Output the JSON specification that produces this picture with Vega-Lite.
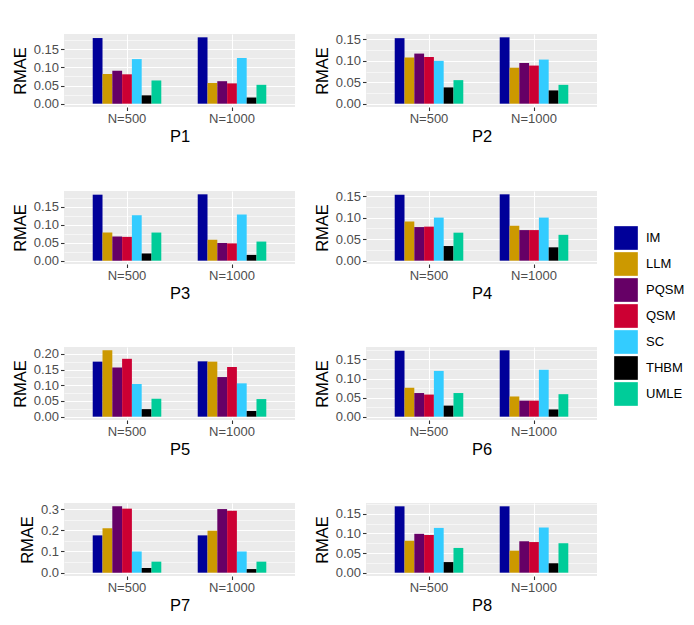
{
  "$schema": "https://vega.github.io/schema/vega-lite/v6.json",
  "background": "white",
  "padding": {"left": 12, "top": 33, "right": 5, "bottom": 5},
  "data": {
    "values": [
      {"panel": "P1", "N": "N=500", "method": "IM", "rmae": 0.181},
      {"panel": "P1", "N": "N=500", "method": "LLM", "rmae": 0.082},
      {"panel": "P1", "N": "N=500", "method": "PQSM", "rmae": 0.091},
      {"panel": "P1", "N": "N=500", "method": "QSM", "rmae": 0.081},
      {"panel": "P1", "N": "N=500", "method": "SC", "rmae": 0.123},
      {"panel": "P1", "N": "N=500", "method": "THBM", "rmae": 0.023},
      {"panel": "P1", "N": "N=500", "method": "UMLE", "rmae": 0.064},
      {"panel": "P1", "N": "N=1000", "method": "IM", "rmae": 0.183},
      {"panel": "P1", "N": "N=1000", "method": "LLM", "rmae": 0.057},
      {"panel": "P1", "N": "N=1000", "method": "PQSM", "rmae": 0.062},
      {"panel": "P1", "N": "N=1000", "method": "QSM", "rmae": 0.056},
      {"panel": "P1", "N": "N=1000", "method": "SC", "rmae": 0.126},
      {"panel": "P1", "N": "N=1000", "method": "THBM", "rmae": 0.017},
      {"panel": "P1", "N": "N=1000", "method": "UMLE", "rmae": 0.052},
      {"panel": "P2", "N": "N=500", "method": "IM", "rmae": 0.153},
      {"panel": "P2", "N": "N=500", "method": "LLM", "rmae": 0.108},
      {"panel": "P2", "N": "N=500", "method": "PQSM", "rmae": 0.117},
      {"panel": "P2", "N": "N=500", "method": "QSM", "rmae": 0.109},
      {"panel": "P2", "N": "N=500", "method": "SC", "rmae": 0.100},
      {"panel": "P2", "N": "N=500", "method": "THBM", "rmae": 0.038},
      {"panel": "P2", "N": "N=500", "method": "UMLE", "rmae": 0.055},
      {"panel": "P2", "N": "N=1000", "method": "IM", "rmae": 0.155},
      {"panel": "P2", "N": "N=1000", "method": "LLM", "rmae": 0.084},
      {"panel": "P2", "N": "N=1000", "method": "PQSM", "rmae": 0.095},
      {"panel": "P2", "N": "N=1000", "method": "QSM", "rmae": 0.089},
      {"panel": "P2", "N": "N=1000", "method": "SC", "rmae": 0.103},
      {"panel": "P2", "N": "N=1000", "method": "THBM", "rmae": 0.031},
      {"panel": "P2", "N": "N=1000", "method": "UMLE", "rmae": 0.044},
      {"panel": "P3", "N": "N=500", "method": "IM", "rmae": 0.183},
      {"panel": "P3", "N": "N=500", "method": "LLM", "rmae": 0.078},
      {"panel": "P3", "N": "N=500", "method": "PQSM", "rmae": 0.067},
      {"panel": "P3", "N": "N=500", "method": "QSM", "rmae": 0.066},
      {"panel": "P3", "N": "N=500", "method": "SC", "rmae": 0.126},
      {"panel": "P3", "N": "N=500", "method": "THBM", "rmae": 0.020},
      {"panel": "P3", "N": "N=500", "method": "UMLE", "rmae": 0.078},
      {"panel": "P3", "N": "N=1000", "method": "IM", "rmae": 0.184},
      {"panel": "P3", "N": "N=1000", "method": "LLM", "rmae": 0.058},
      {"panel": "P3", "N": "N=1000", "method": "PQSM", "rmae": 0.049},
      {"panel": "P3", "N": "N=1000", "method": "QSM", "rmae": 0.048},
      {"panel": "P3", "N": "N=1000", "method": "SC", "rmae": 0.128},
      {"panel": "P3", "N": "N=1000", "method": "THBM", "rmae": 0.016},
      {"panel": "P3", "N": "N=1000", "method": "UMLE", "rmae": 0.053},
      {"panel": "P4", "N": "N=500", "method": "IM", "rmae": 0.153},
      {"panel": "P4", "N": "N=500", "method": "LLM", "rmae": 0.091},
      {"panel": "P4", "N": "N=500", "method": "PQSM", "rmae": 0.078},
      {"panel": "P4", "N": "N=500", "method": "QSM", "rmae": 0.079},
      {"panel": "P4", "N": "N=500", "method": "SC", "rmae": 0.100},
      {"panel": "P4", "N": "N=500", "method": "THBM", "rmae": 0.034},
      {"panel": "P4", "N": "N=500", "method": "UMLE", "rmae": 0.065},
      {"panel": "P4", "N": "N=1000", "method": "IM", "rmae": 0.154},
      {"panel": "P4", "N": "N=1000", "method": "LLM", "rmae": 0.081},
      {"panel": "P4", "N": "N=1000", "method": "PQSM", "rmae": 0.071},
      {"panel": "P4", "N": "N=1000", "method": "QSM", "rmae": 0.071},
      {"panel": "P4", "N": "N=1000", "method": "SC", "rmae": 0.100},
      {"panel": "P4", "N": "N=1000", "method": "THBM", "rmae": 0.031},
      {"panel": "P4", "N": "N=1000", "method": "UMLE", "rmae": 0.060},
      {"panel": "P5", "N": "N=500", "method": "IM", "rmae": 0.175},
      {"panel": "P5", "N": "N=500", "method": "LLM", "rmae": 0.211},
      {"panel": "P5", "N": "N=500", "method": "PQSM", "rmae": 0.156},
      {"panel": "P5", "N": "N=500", "method": "QSM", "rmae": 0.184},
      {"panel": "P5", "N": "N=500", "method": "SC", "rmae": 0.104},
      {"panel": "P5", "N": "N=500", "method": "THBM", "rmae": 0.024},
      {"panel": "P5", "N": "N=500", "method": "UMLE", "rmae": 0.057},
      {"panel": "P5", "N": "N=1000", "method": "IM", "rmae": 0.176},
      {"panel": "P5", "N": "N=1000", "method": "LLM", "rmae": 0.175},
      {"panel": "P5", "N": "N=1000", "method": "PQSM", "rmae": 0.126},
      {"panel": "P5", "N": "N=1000", "method": "QSM", "rmae": 0.158},
      {"panel": "P5", "N": "N=1000", "method": "SC", "rmae": 0.106},
      {"panel": "P5", "N": "N=1000", "method": "THBM", "rmae": 0.018},
      {"panel": "P5", "N": "N=1000", "method": "UMLE", "rmae": 0.056},
      {"panel": "P6", "N": "N=500", "method": "IM", "rmae": 0.173},
      {"panel": "P6", "N": "N=500", "method": "LLM", "rmae": 0.076},
      {"panel": "P6", "N": "N=500", "method": "PQSM", "rmae": 0.062},
      {"panel": "P6", "N": "N=500", "method": "QSM", "rmae": 0.058},
      {"panel": "P6", "N": "N=500", "method": "SC", "rmae": 0.120},
      {"panel": "P6", "N": "N=500", "method": "THBM", "rmae": 0.029},
      {"panel": "P6", "N": "N=500", "method": "UMLE", "rmae": 0.062},
      {"panel": "P6", "N": "N=1000", "method": "IM", "rmae": 0.174},
      {"panel": "P6", "N": "N=1000", "method": "LLM", "rmae": 0.053},
      {"panel": "P6", "N": "N=1000", "method": "PQSM", "rmae": 0.042},
      {"panel": "P6", "N": "N=1000", "method": "QSM", "rmae": 0.042},
      {"panel": "P6", "N": "N=1000", "method": "SC", "rmae": 0.123},
      {"panel": "P6", "N": "N=1000", "method": "THBM", "rmae": 0.019},
      {"panel": "P6", "N": "N=1000", "method": "UMLE", "rmae": 0.059},
      {"panel": "P7", "N": "N=500", "method": "IM", "rmae": 0.176},
      {"panel": "P7", "N": "N=500", "method": "LLM", "rmae": 0.210},
      {"panel": "P7", "N": "N=500", "method": "PQSM", "rmae": 0.313},
      {"panel": "P7", "N": "N=500", "method": "QSM", "rmae": 0.302},
      {"panel": "P7", "N": "N=500", "method": "SC", "rmae": 0.100},
      {"panel": "P7", "N": "N=500", "method": "THBM", "rmae": 0.022},
      {"panel": "P7", "N": "N=500", "method": "UMLE", "rmae": 0.052},
      {"panel": "P7", "N": "N=1000", "method": "IM", "rmae": 0.176},
      {"panel": "P7", "N": "N=1000", "method": "LLM", "rmae": 0.198},
      {"panel": "P7", "N": "N=1000", "method": "PQSM", "rmae": 0.300},
      {"panel": "P7", "N": "N=1000", "method": "QSM", "rmae": 0.292},
      {"panel": "P7", "N": "N=1000", "method": "SC", "rmae": 0.100},
      {"panel": "P7", "N": "N=1000", "method": "THBM", "rmae": 0.017},
      {"panel": "P7", "N": "N=1000", "method": "UMLE", "rmae": 0.052},
      {"panel": "P8", "N": "N=500", "method": "IM", "rmae": 0.169},
      {"panel": "P8", "N": "N=500", "method": "LLM", "rmae": 0.081},
      {"panel": "P8", "N": "N=500", "method": "PQSM", "rmae": 0.099},
      {"panel": "P8", "N": "N=500", "method": "QSM", "rmae": 0.096},
      {"panel": "P8", "N": "N=500", "method": "SC", "rmae": 0.114},
      {"panel": "P8", "N": "N=500", "method": "THBM", "rmae": 0.027},
      {"panel": "P8", "N": "N=500", "method": "UMLE", "rmae": 0.063},
      {"panel": "P8", "N": "N=1000", "method": "IM", "rmae": 0.169},
      {"panel": "P8", "N": "N=1000", "method": "LLM", "rmae": 0.056},
      {"panel": "P8", "N": "N=1000", "method": "PQSM", "rmae": 0.080},
      {"panel": "P8", "N": "N=1000", "method": "QSM", "rmae": 0.078},
      {"panel": "P8", "N": "N=1000", "method": "SC", "rmae": 0.115},
      {"panel": "P8", "N": "N=1000", "method": "THBM", "rmae": 0.024},
      {"panel": "P8", "N": "N=1000", "method": "UMLE", "rmae": 0.075}
    ]
  },
  "columns": 2,
  "spacing": {"row": 45, "column": 19},
  "concat": [
    {
      "width": 231, "height": 73,
      "transform": [{"filter": "datum.panel == 'P1'"}],
      "mark": "bar",
      "encoding": {
        "x": {"field": "N", "type": "nominal", "sort": ["N=500", "N=1000"], "scale": {"paddingInner": 0.347, "paddingOuter": 0.2735}, "axis": {"title": "P1"}},
        "xOffset": {"field": "method", "type": "nominal", "scale": {"paddingInner": 0, "paddingOuter": 0}},
        "y": {"field": "rmae", "type": "quantitative", "scale": {"domain": [-0.00915, 0.19215], "nice": false, "zero": false},
          "axis": {"title": "RMAE", "values": [0, 0.025, 0.05, 0.075, 0.1, 0.125, 0.15, 0.175],
            "labelExpr": "round(datum.value / 0.025) % 2 == 0 ? format(datum.value, '.2f') : ''",
            "tickOpacity": {"condition": {"test": "round(datum.value / 0.025) % 2 == 1", "value": 0}, "value": 1},
            "gridWidth": {"condition": {"test": "round(datum.value / 0.025) % 2 == 1", "value": 0.55}, "value": 1.1}}},
        "color": {"field": "method", "type": "nominal", "scale": {"domain": ["IM", "LLM", "PQSM", "QSM", "SC", "THBM", "UMLE"], "range": ["#000099", "#CC9900", "#660066", "#CC0033", "#33CCFF", "#000000", "#00CC99"]}}
      }
    },
    {
      "width": 231, "height": 73,
      "transform": [{"filter": "datum.panel == 'P2'"}],
      "mark": "bar",
      "encoding": {
        "x": {"field": "N", "type": "nominal", "sort": ["N=500", "N=1000"], "scale": {"paddingInner": 0.347, "paddingOuter": 0.2735}, "axis": {"title": "P2"}},
        "xOffset": {"field": "method", "type": "nominal", "scale": {"paddingInner": 0, "paddingOuter": 0}},
        "y": {"field": "rmae", "type": "quantitative", "scale": {"domain": [-0.00775, 0.16275], "nice": false, "zero": false},
          "axis": {"title": "RMAE", "values": [0, 0.025, 0.05, 0.075, 0.1, 0.125, 0.15],
            "labelExpr": "round(datum.value / 0.025) % 2 == 0 ? format(datum.value, '.2f') : ''",
            "tickOpacity": {"condition": {"test": "round(datum.value / 0.025) % 2 == 1", "value": 0}, "value": 1},
            "gridWidth": {"condition": {"test": "round(datum.value / 0.025) % 2 == 1", "value": 0.55}, "value": 1.1}}},
        "color": {"field": "method", "type": "nominal"}
      }
    },
    {
      "width": 231, "height": 73,
      "transform": [{"filter": "datum.panel == 'P3'"}],
      "mark": "bar",
      "encoding": {
        "x": {"field": "N", "type": "nominal", "sort": ["N=500", "N=1000"], "scale": {"paddingInner": 0.347, "paddingOuter": 0.2735}, "axis": {"title": "P3"}},
        "xOffset": {"field": "method", "type": "nominal", "scale": {"paddingInner": 0, "paddingOuter": 0}},
        "y": {"field": "rmae", "type": "quantitative", "scale": {"domain": [-0.0092, 0.1932], "nice": false, "zero": false},
          "axis": {"title": "RMAE", "values": [0, 0.025, 0.05, 0.075, 0.1, 0.125, 0.15, 0.175],
            "labelExpr": "round(datum.value / 0.025) % 2 == 0 ? format(datum.value, '.2f') : ''",
            "tickOpacity": {"condition": {"test": "round(datum.value / 0.025) % 2 == 1", "value": 0}, "value": 1},
            "gridWidth": {"condition": {"test": "round(datum.value / 0.025) % 2 == 1", "value": 0.55}, "value": 1.1}}},
        "color": {"field": "method", "type": "nominal"}
      }
    },
    {
      "width": 231, "height": 73,
      "transform": [{"filter": "datum.panel == 'P4'"}],
      "mark": "bar",
      "encoding": {
        "x": {"field": "N", "type": "nominal", "sort": ["N=500", "N=1000"], "scale": {"paddingInner": 0.347, "paddingOuter": 0.2735}, "axis": {"title": "P4"}},
        "xOffset": {"field": "method", "type": "nominal", "scale": {"paddingInner": 0, "paddingOuter": 0}},
        "y": {"field": "rmae", "type": "quantitative", "scale": {"domain": [-0.0077, 0.1617], "nice": false, "zero": false},
          "axis": {"title": "RMAE", "values": [0, 0.025, 0.05, 0.075, 0.1, 0.125, 0.15],
            "labelExpr": "round(datum.value / 0.025) % 2 == 0 ? format(datum.value, '.2f') : ''",
            "tickOpacity": {"condition": {"test": "round(datum.value / 0.025) % 2 == 1", "value": 0}, "value": 1},
            "gridWidth": {"condition": {"test": "round(datum.value / 0.025) % 2 == 1", "value": 0.55}, "value": 1.1}}},
        "color": {"field": "method", "type": "nominal"}
      }
    },
    {
      "width": 231, "height": 73,
      "transform": [{"filter": "datum.panel == 'P5'"}],
      "mark": "bar",
      "encoding": {
        "x": {"field": "N", "type": "nominal", "sort": ["N=500", "N=1000"], "scale": {"paddingInner": 0.347, "paddingOuter": 0.2735}, "axis": {"title": "P5"}},
        "xOffset": {"field": "method", "type": "nominal", "scale": {"paddingInner": 0, "paddingOuter": 0}},
        "y": {"field": "rmae", "type": "quantitative", "scale": {"domain": [-0.01055, 0.22155], "nice": false, "zero": false},
          "axis": {"title": "RMAE", "values": [0, 0.025, 0.05, 0.075, 0.1, 0.125, 0.15, 0.175, 0.2],
            "labelExpr": "round(datum.value / 0.025) % 2 == 0 ? format(datum.value, '.2f') : ''",
            "tickOpacity": {"condition": {"test": "round(datum.value / 0.025) % 2 == 1", "value": 0}, "value": 1},
            "gridWidth": {"condition": {"test": "round(datum.value / 0.025) % 2 == 1", "value": 0.55}, "value": 1.1}}},
        "color": {"field": "method", "type": "nominal"}
      }
    },
    {
      "width": 231, "height": 73,
      "transform": [{"filter": "datum.panel == 'P6'"}],
      "mark": "bar",
      "encoding": {
        "x": {"field": "N", "type": "nominal", "sort": ["N=500", "N=1000"], "scale": {"paddingInner": 0.347, "paddingOuter": 0.2735}, "axis": {"title": "P6"}},
        "xOffset": {"field": "method", "type": "nominal", "scale": {"paddingInner": 0, "paddingOuter": 0}},
        "y": {"field": "rmae", "type": "quantitative", "scale": {"domain": [-0.0087, 0.1827], "nice": false, "zero": false},
          "axis": {"title": "RMAE", "values": [0, 0.025, 0.05, 0.075, 0.1, 0.125, 0.15, 0.175],
            "labelExpr": "round(datum.value / 0.025) % 2 == 0 ? format(datum.value, '.2f') : ''",
            "tickOpacity": {"condition": {"test": "round(datum.value / 0.025) % 2 == 1", "value": 0}, "value": 1},
            "gridWidth": {"condition": {"test": "round(datum.value / 0.025) % 2 == 1", "value": 0.55}, "value": 1.1}}},
        "color": {"field": "method", "type": "nominal"}
      }
    },
    {
      "width": 231, "height": 73,
      "transform": [{"filter": "datum.panel == 'P7'"}],
      "mark": "bar",
      "encoding": {
        "x": {"field": "N", "type": "nominal", "sort": ["N=500", "N=1000"], "scale": {"paddingInner": 0.347, "paddingOuter": 0.2735}, "axis": {"title": "P7"}},
        "xOffset": {"field": "method", "type": "nominal", "scale": {"paddingInner": 0, "paddingOuter": 0}},
        "y": {"field": "rmae", "type": "quantitative", "scale": {"domain": [-0.01565, 0.32865], "nice": false, "zero": false},
          "axis": {"title": "RMAE", "values": [0, 0.05, 0.1, 0.15, 0.2, 0.25, 0.3],
            "labelExpr": "round(datum.value / 0.05) % 2 == 0 ? format(datum.value, '.1f') : ''",
            "tickOpacity": {"condition": {"test": "round(datum.value / 0.05) % 2 == 1", "value": 0}, "value": 1},
            "gridWidth": {"condition": {"test": "round(datum.value / 0.05) % 2 == 1", "value": 0.55}, "value": 1.1}}},
        "color": {"field": "method", "type": "nominal"}
      }
    },
    {
      "width": 231, "height": 73,
      "transform": [{"filter": "datum.panel == 'P8'"}],
      "mark": "bar",
      "encoding": {
        "x": {"field": "N", "type": "nominal", "sort": ["N=500", "N=1000"], "scale": {"paddingInner": 0.347, "paddingOuter": 0.2735}, "axis": {"title": "P8"}},
        "xOffset": {"field": "method", "type": "nominal", "scale": {"paddingInner": 0, "paddingOuter": 0}},
        "y": {"field": "rmae", "type": "quantitative", "scale": {"domain": [-0.00845, 0.17745], "nice": false, "zero": false},
          "axis": {"title": "RMAE", "values": [0, 0.025, 0.05, 0.075, 0.1, 0.125, 0.15, 0.175],
            "labelExpr": "round(datum.value / 0.025) % 2 == 0 ? format(datum.value, '.2f') : ''",
            "tickOpacity": {"condition": {"test": "round(datum.value / 0.025) % 2 == 1", "value": 0}, "value": 1},
            "gridWidth": {"condition": {"test": "round(datum.value / 0.025) % 2 == 1", "value": 0.55}, "value": 1.1}}},
        "color": {"field": "method", "type": "nominal"}
      }
    }
  ],
  "config": {
    "font": "Liberation Sans",
    "view": {"fill": "#EBEBEB", "stroke": null},
    "bar": {"strokeWidth": 0},
    "axis": {
      "domain": false,
      "grid": true,
      "gridColor": "#FFFFFF",
      "tickColor": "#333333",
      "tickSize": 3.5,
      "tickWidth": 1.1,
      "labelColor": "#4D4D4D",
      "labelFontSize": 13,
      "labelPadding": 2,
      "titleColor": "#000000",
      "titleFontSize": 16.5,
      "titleFontWeight": "normal"
    },
    "axisX": {"bandPosition": 0.5, "labelAngle": 0, "titlePadding": 3, "gridWidth": 1.1},
    "axisY": {"titlePadding": 5},
    "legend": {
      "title": null,
      "orient": "none",
      "legendX": 550,
      "legendY": 192,
      "symbolType": "square",
      "symbolSize": 560,
      "symbolStrokeWidth": 0,
      "symbolOpacity": 1,
      "rowPadding": 2,
      "labelFontSize": 13,
      "labelColor": "#000000",
      "labelOffset": 8
    }
  }
}
